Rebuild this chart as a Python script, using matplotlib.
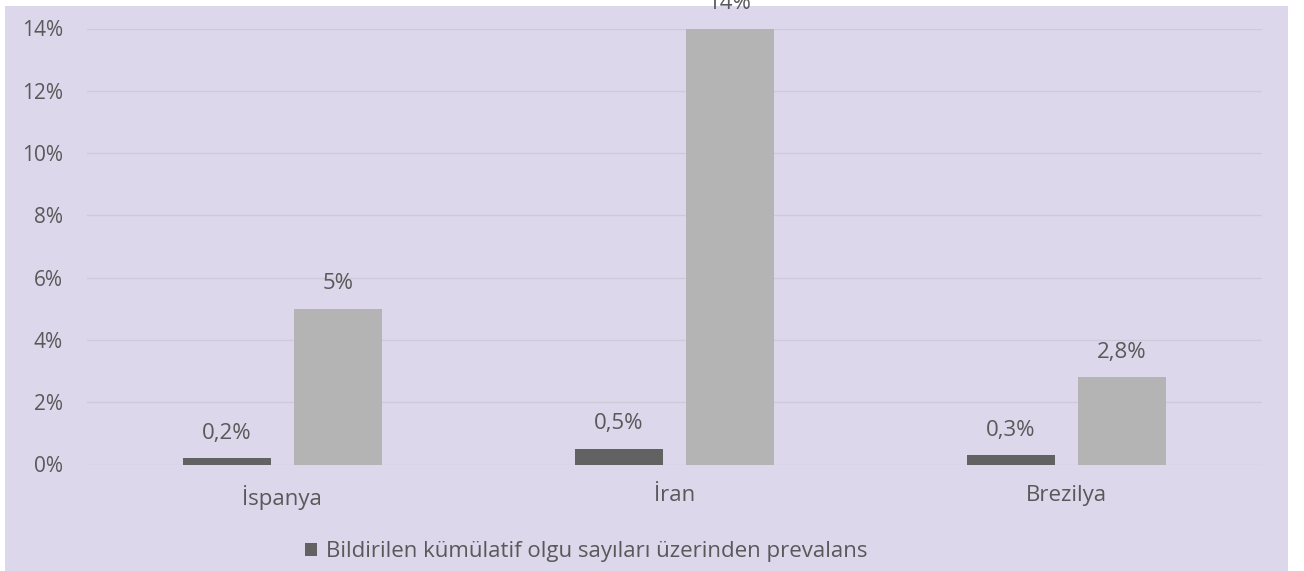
import matplotlib
matplotlib.use("Agg")
import matplotlib.pyplot as plt
import numpy as np
from matplotlib.patches import Rectangle
from matplotlib.ticker import FuncFormatter

categories = ["İspanya", "İran", "Brezilya"]
reported = [0.2, 0.5, 0.3]          # Bildirilen kümülatif olgu sayıları üzerinden prevalans
estimated = [5, 14, 2.8]            # second series (no legend entry)
reported_labels = ["0,2%", "0,5%", "0,3%"]
estimated_labels = ["5%", "14%", "2,8%"]
legend_label = "Bildirilen kümülatif olgu sayıları üzerinden prevalans"
yticks = [0, 2, 4, 6, 8, 10, 12, 14]

plt.rcParams['font.family'] = ['Open Sans', 'DejaVu Sans']
txt = '#595959'
bg = '#DCD7EB'

W, H = 1304, 571
fig = plt.figure(figsize=(W / 100, H / 100), dpi=100, facecolor='white')
fig.patches.append(Rectangle((5 / W, 0), (1288 - 5) / W, (H - 6) / H,
                             transform=fig.transFigure, facecolor=bg,
                             edgecolor='none', zorder=-10))

ax = fig.add_axes([86.5 / W, 106.5 / H, (1262 - 86.5) / W, (542.5 - 106.5) / H])
ax.set_facecolor('none')

x = np.arange(len(categories))
bw = 88 / 392
off = (44 + 11.5) / 392
b1 = ax.bar(x - off, reported, bw, color='#626262', label=legend_label, zorder=3)
b2 = ax.bar(x + off, estimated, bw, color='#B4B4B4', zorder=3)

for bars, labels in ((b1, reported_labels), (b2, estimated_labels)):
    for rect, lab in zip(bars, labels):
        ax.annotate(lab, (rect.get_x() + rect.get_width() / 2, rect.get_height()),
                    xytext=(0, 14), textcoords='offset points', ha='center',
                    va='baseline', fontsize=16, color=txt, annotation_clip=False)

ax.set_xlim(-0.5, len(categories) - 0.5)
ax.set_ylim(0, 14)
ax.set_yticks(yticks)
ax.yaxis.set_major_formatter(FuncFormatter(lambda v, p: f"{int(v)}%"))
ax.set_xticks(x)
ax.set_xticklabels(categories)
ax.tick_params(axis='y', length=0, pad=17, labelsize=15, labelcolor=txt)
ax.tick_params(axis='x', length=0, pad=15, labelsize=16, labelcolor=txt)
ax.grid(axis='y', color='#CFCAD9', linewidth=1, zorder=0)
for s in ax.spines.values():
    s.set_visible(False)

leg = fig.legend(handles=[b1], labels=[legend_label], loc='center left',
                 bbox_to_anchor=(305 / W, 1 - 552 / H), frameon=False,
                 fontsize=16, handlelength=0.55, handleheight=0.55,
                 handletextpad=0.4, borderaxespad=0, borderpad=0)
for t in leg.get_texts():
    t.set_color(txt)

fig.savefig("out.png", dpi=100, facecolor='white')
